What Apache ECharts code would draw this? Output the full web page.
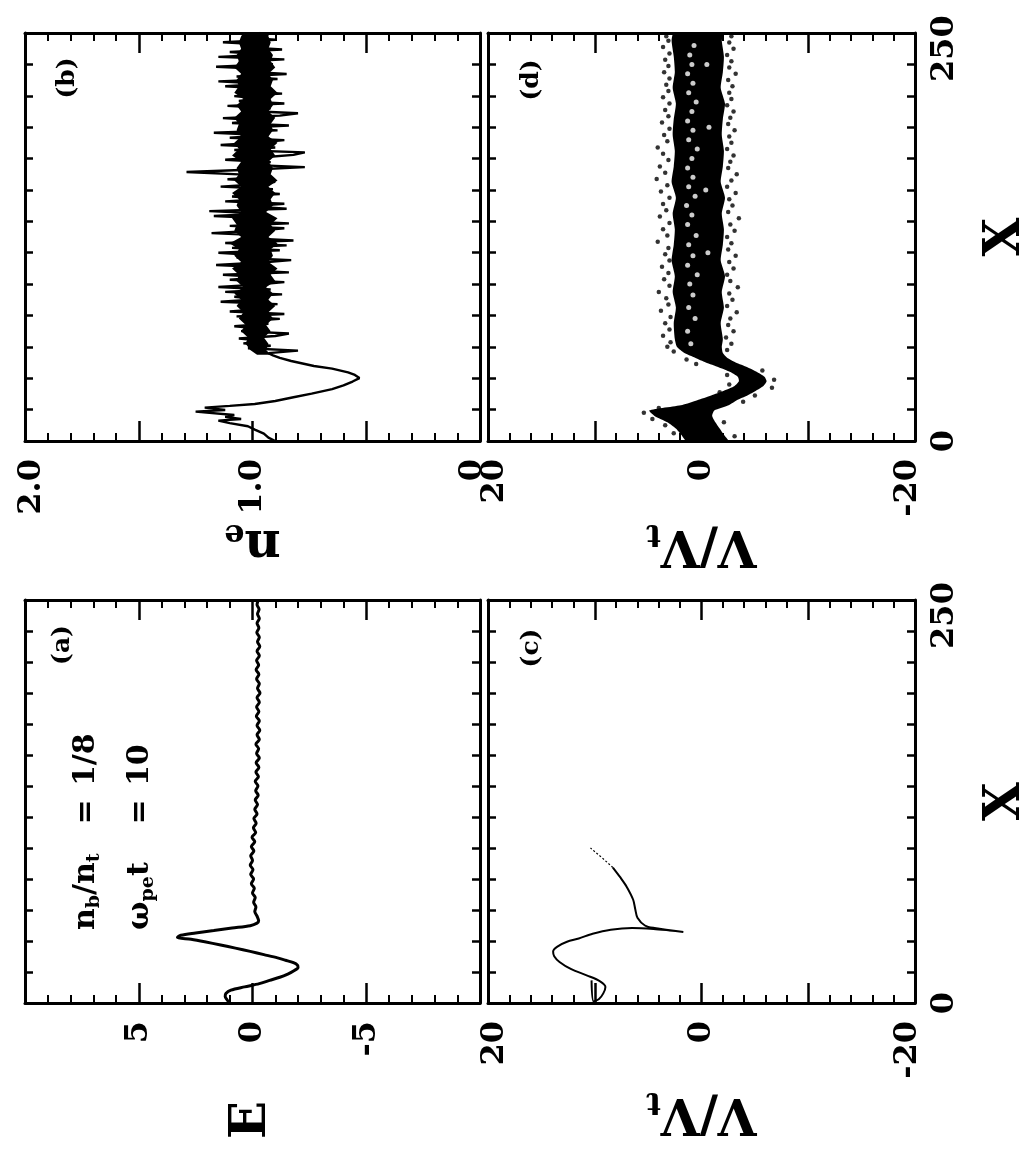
<!DOCTYPE html>
<html><head><meta charset="utf-8">
<script src="https://cdn.jsdelivr.net/npm/echarts/dist/echarts.min.js"></script>
<style>html,body{margin:0;padding:0;background:#fff}#c{width:1026px;height:1151px}</style>
</head><body><div id="c"></div>
<script>
const FONT = 'DejaVu Serif';
const X_MIN = 0, X_MAX = 260, X_TICK = 20, X_LABEL_STEP = 10;

// (a) electric field E versus X  [X, E]
const eCurve = [[0,1.0],[2.1,1.12],[4.2,1.2],[6.2,1.17],[8.3,0.95],[10.4,0.35],[12.5,-0.3],[14.6,-0.75],[16.6,-1.2],[18.7,-1.55],[20.8,-1.82],[22.9,-2.0],[24.4,-1.98],[26,-1.8],[27.6,-1.45],[29.1,-1.1],[31.2,-0.5],[33.3,0.1],[35.4,0.75],[37.4,1.4],[39.5,2.1],[41.1,2.7],[42.3,3.3],[43.7,3.15],[45.2,2.5],[46.8,1.7],[48.4,0.9],[49.9,0.1],[51.5,-0.2],[53,-0.27],
[56,-0.2],[59,-0.1],[62,-0.15],[65,-0.05],[68,-0.12],[71,0.0],[74,-0.08],[77,0.05],[80,-0.05],[83,0.08],[86,-0.02],[89,0.1],[92,0.0],[95,0.08],[98,-0.06],[101,0.05],[104,-0.1],[107,0.02],[110,-0.14],[113,-0.04],[116,-0.16],[119,-0.06],[122,-0.2],[125,-0.1],[128,-0.22],[131,-0.12],[134,-0.25],[137,-0.14],[140,-0.24],[143,-0.12],[146,-0.26],[149,-0.15],[152,-0.28],[155,-0.16],[158,-0.3],[161,-0.18],[164,-0.27],[167,-0.15],[170,-0.3],[173,-0.2],[176,-0.32],[179,-0.2],[182,-0.3],[185,-0.17],[188,-0.28],[191,-0.18],[194,-0.3],[197,-0.2],[200,-0.33],[203,-0.22],[206,-0.3],[209,-0.18],[212,-0.28],[215,-0.16],[218,-0.27],[221,-0.18],[224,-0.3],[227,-0.2],[230,-0.32],[233,-0.22],[236,-0.3],[239,-0.19],[242,-0.28],[245,-0.2],[248,-0.3],[251,-0.22],[254,-0.29],[257,-0.2],[260,-0.26]];

// (b) electron density n_e versus X
const neHead = [[0,0.90],[2.1,0.93],[4.7,0.95],[7.3,0.99],[9.4,1.02],[11.4,1.10],[13,1.15],[14,1.05],[15.4,1.12],[16.6,1.08],[18.7,1.25],[19.8,1.12],[21.3,1.21],[22.4,1.10],[23.6,0.99],[25.5,0.90],[27.9,0.82],[30.2,0.74],[33.1,0.65],[35.4,0.60],[37.9,0.56],[40.1,0.53],[42.1,0.55],[43.7,0.58],[46.1,0.65],[47.8,0.73],[51,0.83],[53,0.88],[54.6,0.91]];
const neNoiseStart = 56, neNoiseStep = 1.56;
const neNoise = [0.93,0.80,1.02,0.92,1.04,0.95,1.06,0.90,0.84,1.05,
0.96,1.08,0.93,1.03,0.88,1.07,0.86,1.10,0.95,1.04,
0.89,1.14,0.97,1.08,0.87,1.12,0.92,1.15,0.98,0.86,
1.10,0.94,1.13,0.84,1.05,0.91,1.16,0.96,0.83,1.07,
0.97,1.15,0.88,1.09,0.85,1.12,0.82,1.04,0.93,1.18,
0.99,0.86,1.10,0.84,1.06,0.92,1.17,0.95,1.19,0.85,
1.02,0.86,1.12,0.94,1.09,0.88,1.05,0.91,1.14,0.97,
0.90,1.11,0.93,1.06,1.29,0.99,0.77,1.03,0.92,1.12,
0.95,0.82,0.77,1.08,0.90,1.14,0.97,0.86,1.10,0.93,
1.17,0.89,1.05,0.84,1.09,0.95,1.13,0.88,0.80,1.04,
0.92,1.11,0.86,1.06,0.97,1.08,0.87,1.03,0.92,1.12,
0.95,1.15,0.89,1.07,0.85,1.02,0.94,1.16,0.91,1.06,
0.86,1.15,0.93,1.10,0.87,1.03,0.95,1.13,0.90,1.04,
0.93];
const neTail = [[260,0.97]];
// dense (unresolved) core of the oscillating density
const neCoreX  = [55,58,62,66,70,74,78,82,86,90,94,98,102,106,110,114,118,122,126,130,134,138,142,146,150,154,158,162,166,170,174,178,182,186,190,194,198,202,206,210,214,218,222,226,230,234,238,242,246,250,254,258,260];
const neCoreHi = [0.98,1.01,1.03,1.02,1.05,1.03,1.06,1.04,1.07,1.05,
1.08,1.04,1.07,1.06,1.09,1.05,1.08,1.06,1.10,1.05,
1.08,1.07,1.09,1.05,1.07,1.06,1.09,1.05,1.08,1.06,
1.07,1.05,1.09,1.06,1.08,1.05,1.07,1.06,1.08,1.05,
1.07,1.04,1.08,1.06,1.07,1.05,1.08,1.06,1.07,1.05,
1.06,1.05,1.04];
const neCoreLo = [0.92,0.94,0.93,0.95,0.92,0.94,0.91,0.93,0.90,0.93,
0.91,0.94,0.90,0.92,0.89,0.93,0.91,0.92,0.89,0.93,
0.90,0.92,0.89,0.94,0.91,0.92,0.90,0.93,0.89,0.92,
0.91,0.93,0.90,0.92,0.89,0.93,0.91,0.92,0.90,0.93,
0.91,0.92,0.89,0.92,0.91,0.93,0.90,0.92,0.91,0.93,
0.92,0.93,0.94];

// (c) beam electrons phase space  [X, V/Vt]
const beamSolid = [[14.6,10.3],[1,10.1],[2.6,9.6],[6.2,9.2],[10.4,9.0],[14,9.5],[17.7,10.7],[21.8,12.2],[26.5,13.3],[30.2,13.8],[33.3,13.9],[36.4,13.5],[39.5,12.6],[41.6,11.5],[44.7,10.2],[47.3,8.5],[48.4,6.5],[47.8,4.5],[46.8,3.0],[45.8,1.7],[48.4,4.4],[50,5.3],[55,6.0],[60.3,6.2],[66.6,6.4],[74.9,7.0],[81,7.6],[87.4,8.3]];
const beamDotted = [[87.4,8.3],[93.6,9.3],[100,10.4]];

// (d) plasma electrons phase space: dense band limits and scattered particles  [X, V/Vt]
const bandX  = [0,4,8,12,16,19.5,23,26,29,32,35,38,41,44,47,50,53,56,60,65,75,85,95,105,115,125,135,145,155,165,175,185,195,205,215,225,235,245,255,260];
const bandHi = [1.4,1.9,2.4,3.2,4.4,4.9,1.8,0.4,-0.9,-2.1,-3.1,-3.5,-3.4,-2.7,-1.6,-0.4,0.6,1.6,2.3,2.5,2.6,2.4,2.7,2.5,2.8,2.6,2.5,2.7,2.4,2.8,2.6,2.5,2.7,2.6,2.4,2.7,2.5,2.6,2.8,2.6];
const bandLo = [-2.5,-2.1,-1.7,-1.3,-1.0,-1.2,-2.6,-3.3,-4.3,-5.1,-5.8,-6.1,-5.9,-5.2,-4.3,-3.2,-2.4,-2.0,-1.9,-2.0,-1.8,-2.1,-1.9,-2.2,-1.8,-2.0,-2.1,-1.9,-2.2,-1.8,-2.0,-2.1,-1.9,-2.0,-2.2,-1.8,-2.0,-2.1,-1.9,-2.0];
const strayDots = [[60,3.2],[63,2.9],[67,3.6],[71,3.0],[75,3.4],[79,2.9],[83,3.8],[87,3.1],[91,3.3],[95,4.0],[99,3.0],[103,3.5],[107,3.1],[111,3.7],[115,3.0],[119,3.4],[123,3.1],[127,4.1],[131,3.2],[135,3.6],[139,3.0],[143,3.9],[147,3.3],[151,3.6],[155,3.0],[159,3.8],[163,3.2],[167,4.2],[171,3.4],[175,3.9],[179,3.1],[183,3.6],[187,4.1],[191,3.2],[195,3.5],[199,3.0],[203,3.7],[207,3.1],[211,3.4],[215,3.0],[219,3.6],[223,3.1],[227,3.3],[231,3.0],[235,3.5],[239,3.1],[243,3.4],[247,3.0],[251,3.6],[255,3.1],[258,3.3],
[58,-2.4],[62,-2.8],[66,-2.3],[70,-3.0],[74,-2.5],[78,-2.7],[82,-3.3],[86,-2.4],[90,-2.9],[94,-2.6],[98,-3.4],[102,-2.7],[106,-2.4],[110,-3.0],[114,-2.6],[118,-3.2],[122,-2.5],[126,-2.8],[130,-2.4],[134,-3.1],[138,-2.7],[142,-3.5],[146,-2.5],[150,-2.9],[154,-2.6],[158,-3.2],[162,-2.4],[166,-2.8],[170,-3.3],[174,-2.5],[178,-2.7],[182,-3.0],[186,-2.4],[190,-2.8],[194,-2.6],[198,-3.1],[202,-2.5],[206,-2.7],[210,-3.0],[214,-2.4],[218,-2.8],[222,-2.6],[226,-2.9],[230,-2.5],[234,-3.2],[238,-2.6],[242,-2.8],[246,-2.4],[250,-3.0],[254,-2.6],[258,-2.8],
[5,2.6],[10,3.4],[14,4.6],[18,5.4],[21,4.0],[25,-3.9],[29,-5.0],[34,-6.6],[39,-6.8],[45,-5.7],[12,-2.1],[3,-3.1],[49,0.5],[52,1.4],[57,2.6],[31,-1.7],[36,-2.6],[42,-2.4]];
const holeDots = [[62,1.0],[70,1.3],[78,0.6],[85,1.2],[93,0.8],[100,1.1],[106,0.4],[112,1.3],[118,0.8],[125,1.2],[131,0.5],[138,1.3],[144,0.9],[150,1.4],[156,0.6],[162,1.2],[168,0.8],[174,1.3],[180,0.9],[186,0.4],[192,1.2],[198,0.8],[204,1.3],[210,0.9],[216,0.5],[222,1.2],[228,0.8],[234,1.3],[240,0.9],[246,1.1],[252,0.7],[120,-0.6],[160,-0.4],[200,-0.7],[240,-0.5]];

// tick labels
const neTickLabels = {'2': '2.0', '1': '1.0', '0': '0'};
const vTickLabels = ['20', '0', '-20'];
const eTickLabels = ['5', '0', '-5'];
const xTickLabels = ['0', '250'];

// ---------- build ----------
const neData = neHead.map(p => [p[1], p[0]])
  .concat(neNoise.map((v, i) => [v, neNoiseStart + i * neNoiseStep]))
  .concat(neTail.map(p => [p[1], p[0]]));
const swap = arr => arr.map(p => [p[1], p[0]]);

const lab = {fontFamily: FONT, fontWeight: 'bold', fontSize: 32, color: '#000'};
const labRich = {
  l: Object.assign({padding: [14, 0, 0, 0]}, lab),
  c: Object.assign({}, lab),
  r: Object.assign({padding: [0, 0, 14, 0]}, lab)
};
const line3 = {show: true, onZero: false, lineStyle: {color: '#000', width: 3}};

function edgeFmt(labels, min, max, map) {
  return v => {
    const k = String(Math.round(v * 100) / 100);
    const t = map ? map[k] : (labels.indexOf(k) >= 0 ? k : undefined);
    if (t === undefined) return '';
    const tag = Math.abs(v - max) < 1e-6 ? 'l' : (Math.abs(v - min) < 1e-6 ? 'r' : 'c');
    return '{' + tag + '|' + t + '}';
  };
}

function xVal(gi, position, min, max, interval, fmt, nameCfg) {
  const a = {
    type: 'value', gridIndex: gi, position: position, min: min, max: max, interval: interval, inverse: true,
    axisLine: line3,
    axisTick: {show: true, inside: true, length: 20, lineStyle: {color: '#000', width: 2.5}},
    minorTick: {show: true, splitNumber: 5, length: 8, lineStyle: {color: '#000', width: 2}},
    splitLine: {show: false}, minorSplitLine: {show: false},
    axisLabel: position === 'bottom'
      ? Object.assign({show: true, rotate: 90, margin: 18, showMinLabel: true, showMaxLabel: true, formatter: fmt, rich: labRich}, lab)
      : {show: false},
    nameMoveOverlap: false
  };
  if (nameCfg) Object.assign(a, nameCfg);
  return a;
}
function yTicks(gi, position) {
  return {
    type: 'value', gridIndex: gi, position: position, min: X_MIN, max: X_MAX, interval: X_TICK,
    axisLine: line3,
    axisTick: {show: true, inside: true, length: 8, lineStyle: {color: '#000', width: 2.5}},
    splitLine: {show: false}, axisLabel: {show: false}
  };
}
function yLabels(gi, nameCfg) {
  return Object.assign({
    type: 'value', gridIndex: gi, position: 'right', min: X_MIN, max: X_MAX, interval: X_LABEL_STEP,
    axisLine: {show: false}, axisTick: {show: false}, splitLine: {show: false},
    axisLabel: Object.assign({show: true, rotate: 90, margin: 14, showMinLabel: true,
      formatter: v => (xTickLabels.indexOf(String(Math.round(v))) >= 0 ? String(Math.round(v)) : '')}, lab),
    nameMoveOverlap: false
  }, nameCfg);
}
const big = {fontFamily: FONT, fontWeight: 'bold', fontSize: 50, color: '#000'};
const sub = {fontFamily: FONT, fontWeight: 'bold', fontSize: 32, color: '#000', padding: [22, 0, 0, 0]};
const vName = {name: '{m|V/V}{s|t}', nameLocation: 'middle', nameRotate: 180, nameGap: 76,
  nameTextStyle: {rich: {m: big, s: sub}}};
const vName2 = Object.assign({}, vName, {nameGap: 82});
const neName = {name: '{m|n}{s|e}', nameLocation: 'middle', nameRotate: 180, nameGap: 76,
  nameTextStyle: {rich: {m: big, s: sub}}};
const eName = {name: 'E', nameLocation: 'middle', nameRotate: 90, nameGap: 98,
  nameTextStyle: {fontFamily: FONT, fontWeight: 'bold', fontSize: 50, color: '#000'}};
const xName = {name: 'X', nameLocation: 'middle', nameRotate: 90, nameGap: 66,
  nameTextStyle: {fontFamily: FONT, fontWeight: 'bold', fontSize: 50, color: '#000'}};

const grids = [
  {left: 25, top: 33, width: 455, height: 408},   // (b)
  {left: 488, top: 33, width: 427, height: 408},  // (d)
  {left: 25, top: 600, width: 455, height: 403},  // (a)
  {left: 488, top: 600, width: 427, height: 403}  // (c)
].map(g => Object.assign({containLabel: false, outerBoundsMode: 'none'}, g));

const xAxes = [
  xVal(0, 'bottom', 0, 2, 0.5, edgeFmt(null, 0, 2, neTickLabels), neName), xVal(0, 'top', 0, 2, 0.5),
  xVal(1, 'bottom', -20, 20, 10, edgeFmt(vTickLabels, -20, 20), vName), xVal(1, 'top', -20, 20, 10),
  xVal(2, 'bottom', -10, 10, 5, edgeFmt(eTickLabels, -10, 10), eName), xVal(2, 'top', -10, 10, 5),
  xVal(3, 'bottom', -20, 20, 10, edgeFmt(vTickLabels, -20, 20), vName2), xVal(3, 'top', -20, 20, 10)
];
// y axes: b(0,1)  d(2,3,4)  a(5,6)  c(7,8,9)
const yAxes = [
  yTicks(0, 'left'), yTicks(0, 'right'),
  yTicks(1, 'left'), yTicks(1, 'right'), yLabels(1, xName),
  yTicks(2, 'left'), yTicks(2, 'right'),
  yTicks(3, 'left'), yTicks(3, 'right'), yLabels(3, xName)
];

const T = {fontFamily: FONT, fontWeight: 'bold', fill: '#000'};
function rtext(x, y, text, size, align, rich) {
  return {type: 'text', x: x, y: y, rotation: Math.PI / 2,
    style: Object.assign({text: text, fontSize: size, align: align, verticalAlign: 'middle', rich: rich}, T)};
}
const rb = Object.assign({fontSize: 30}, T);
const rs = Object.assign({fontSize: 19, padding: [16, 0, 0, 0]}, T);
const annRich = {b: rb, s: rs};

function bandItem(xs, hi, lo, smooth) {
  return function (params, api) {
    const pts = [];
    for (let i = 0; i < xs.length; i++) pts.push(api.coord([hi[i], xs[i]]));
    for (let i = xs.length - 1; i >= 0; i--) pts.push(api.coord([lo[i], xs[i]]));
    return {type: 'polygon', shape: {points: pts, smooth: smooth}, style: {fill: '#000'}};
  };
}

const option = {
  animation: false,
  backgroundColor: '#fff',
  grid: grids,
  xAxis: xAxes,
  yAxis: yAxes,
  graphic: [
    rtext(67, 78, '(b)', 25, 'center'), rtext(531, 80, '(d)', 25, 'center'),
    rtext(62, 645, '(a)', 25, 'center'), rtext(531, 648, '(c)', 25, 'center'),
    rtext(86, 930, '{b|n}{s|b}{b|/n}{s|t}', 30, 'left', annRich),
    rtext(86, 812, '=', 30, 'center'),
    rtext(86, 786, '1/8', 30, 'left'),
    rtext(140, 930, '{b|ω}{s|pe}{b|t}', 30, 'left', annRich),
    rtext(140, 812, '=', 30, 'center'),
    rtext(140, 786, '10', 30, 'left')
  ],
  series: [
    {type: 'custom', xAxisIndex: 0, yAxisIndex: 0, data: [[0, 0]], clip: true, silent: true,
      renderItem: bandItem(neCoreX, neCoreHi, neCoreLo, 0)},
    {type: 'line', xAxisIndex: 0, yAxisIndex: 0, data: neData, showSymbol: false, symbol: 'none',
      lineStyle: {color: '#000', width: 2.4}, clip: true},
    {type: 'custom', xAxisIndex: 2, yAxisIndex: 2, data: [[0, 0]], clip: true, silent: true,
      renderItem: bandItem(bandX, bandHi, bandLo, 0.2)},
    {type: 'scatter', xAxisIndex: 2, yAxisIndex: 2, data: swap(strayDots), symbolSize: 4.5,
      itemStyle: {color: '#000'}},
    {type: 'scatter', xAxisIndex: 2, yAxisIndex: 2, data: swap(holeDots), symbolSize: 5,
      itemStyle: {color: '#fff'}},
    {type: 'line', xAxisIndex: 4, yAxisIndex: 5, data: swap(eCurve), showSymbol: false, symbol: 'none',
      smooth: 0.3, lineStyle: {color: '#000', width: 3}},
    {type: 'line', xAxisIndex: 6, yAxisIndex: 7, data: swap(beamSolid), showSymbol: false, symbol: 'none',
      smooth: 0.3, lineStyle: {color: '#000', width: 2}},
    {type: 'line', xAxisIndex: 6, yAxisIndex: 7, data: swap(beamDotted), showSymbol: false, symbol: 'none',
      lineStyle: {color: '#000', width: 1.2, type: [2, 2]}}
  ]
};
const chart = echarts.init(document.getElementById('c'), null, {renderer: 'canvas'});
chart.setOption(option);
</script></body></html>
